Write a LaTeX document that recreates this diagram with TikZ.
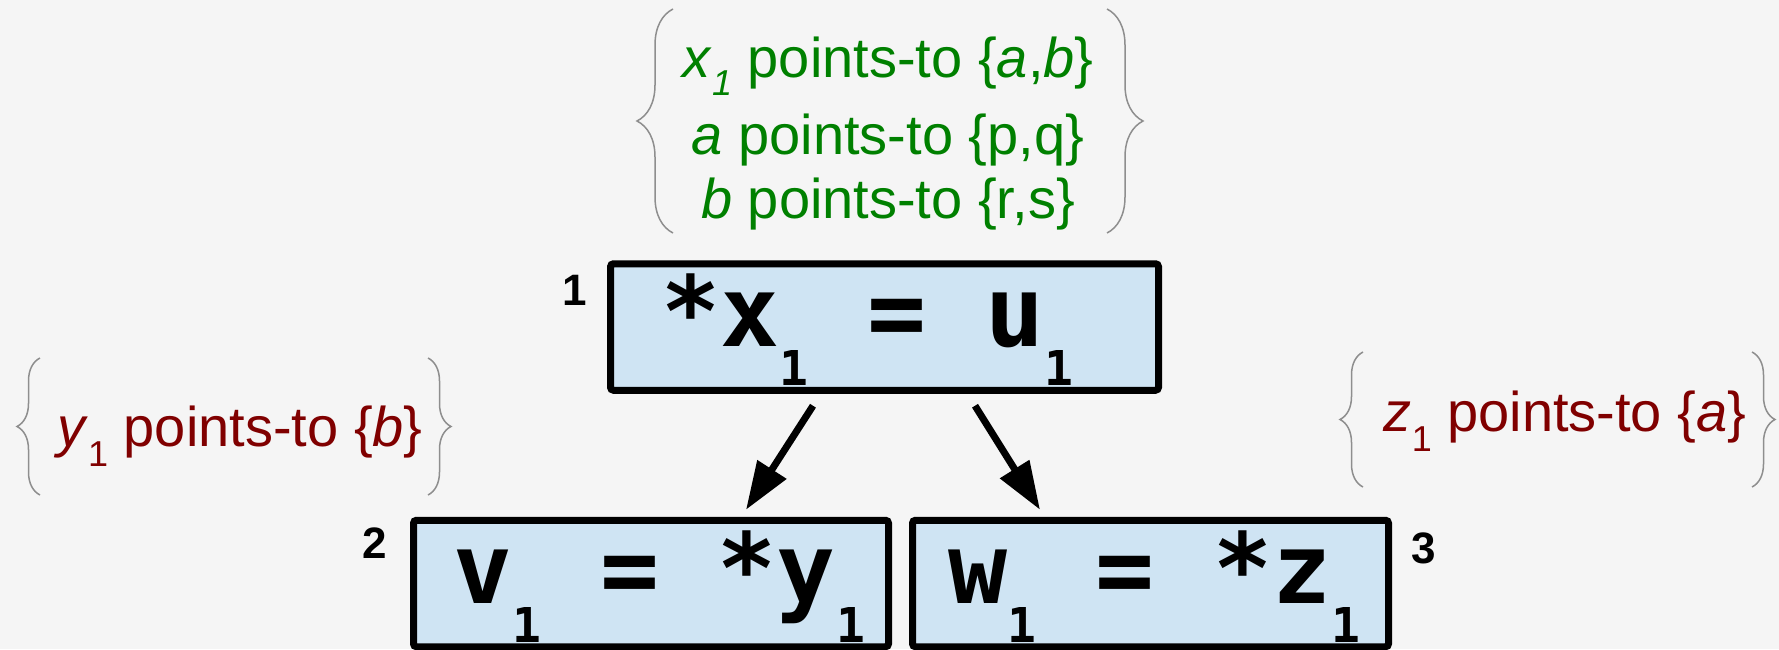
\documentclass[tikz,border=0pt]{standalone}
\usepackage{fontspec}
\setmainfont{Liberation Sans}
\newfontfamily\codefont{DejaVu Sans Mono}
\usetikzlibrary{arrows.meta,decorations.pathreplacing}
\definecolor{stmtblue}{HTML}{CFE4F3}
\definecolor{ptsgreen}{HTML}{008000}
\definecolor{ptsred}{HTML}{800000}
\definecolor{bracegray}{HTML}{8E8E8E}
\newcommand{\codesub}[1]{\raisebox{-19.5pt}{\fontsize{24}{24}\selectfont #1}}
\newcommand{\ptssub}[2][10pt]{\raisebox{-#1}{\fontsize{18}{18}\selectfont #2}}

\begin{document}
\begin{tikzpicture}[x=0.5pt,y=-0.5pt,>={Triangle[length=24pt,width=16.5pt]},
    stmt/.style={draw,line width=3.5pt,fill=stmtblue,rounded corners=1.5pt,
      inner xsep=0pt,inner ysep=0pt,text height=41.5pt,text depth=21.75pt,
      font=\codefont\bfseries\fontsize{49}{49}\selectfont},
    num/.style={inner sep=0pt,font=\bfseries\fontsize{22}{22}\selectfont},
    pts/.style={anchor=base,inner sep=0pt,font=\fontsize{28}{28}\selectfont},
    ptsbrace/.style={draw=bracegray,line width=0.75pt,decorate,
      decoration={brace,amplitude=#1}},
    ptsbrace/.default=11.5pt,
    flow/.style={->,line width=3.5pt}]
    \useasboundingbox (0,0) rectangle (1779,649);
    \fill[black!4] (0,0) rectangle (1779,649);

    \draw[ptsbrace=18pt] (673,233) -- (673,9);
    \draw[ptsbrace=18pt] (1107,9) -- (1107,233);
    \node[pts,text=ptsgreen] (xpts) at (888,77)
      {\textit{x}\ptssub[9pt]{\textit{1}} points-to \{\textit{a},\textit{b}\}};
    \node[pts,text=ptsgreen] (apts) at (888,154) {\textit{a} points-to \{p,q\}};
    \node[pts,text=ptsgreen] (bpts) at (888,218) {\textit{b} points-to \{r,s\}};

    \draw[ptsbrace] (40,495) -- (40,358);
    \draw[ptsbrace] (428,358) -- (428,495);
    \node[pts,text=ptsred] (ypts) at (240,446)
      {\textit{y}\ptssub{1} points-to \{\textit{b}\}};

    \draw[ptsbrace] (1363,487) -- (1363,352);
    \draw[ptsbrace] (1752,352) -- (1752,487);
    \node[pts,text=ptsred] (zpts) at (1565,431)
      {\textit{z}\ptssub{1} points-to \{\textit{a}\}};

    \node[stmt,minimum width=274pt] (st1) at (884.5,327)
      {*x\codesub{1} = u\codesub{1}\hspace{17pt}\null};
    \node[stmt,minimum width=237.5pt] (st2) at (651,583.5)
      {\hspace{8pt}v\codesub{1} = *y\codesub{1}};
    \node[stmt,minimum width=238pt] (st3) at (1150.5,583.5)
      {\hspace{4pt}w\codesub{1} = *z\codesub{1}};
    \node[num] (n1) at (574.5,290) {1};
    \node[num] (n2) at (375,543) {2};
    \node[num] (n3) at (1424,548) {3};

    \draw[flow] ([xshift=-35.75pt,yshift=-6pt]st1.south)
      -- ([xshift=47.5pt,yshift=3.5pt]st2.north);
    \draw[flow] ([xshift=45.25pt,yshift=-6pt]st1.south)
      -- ([xshift=-55.25pt,yshift=3.5pt]st3.north);
  \end{tikzpicture}
\end{document}
